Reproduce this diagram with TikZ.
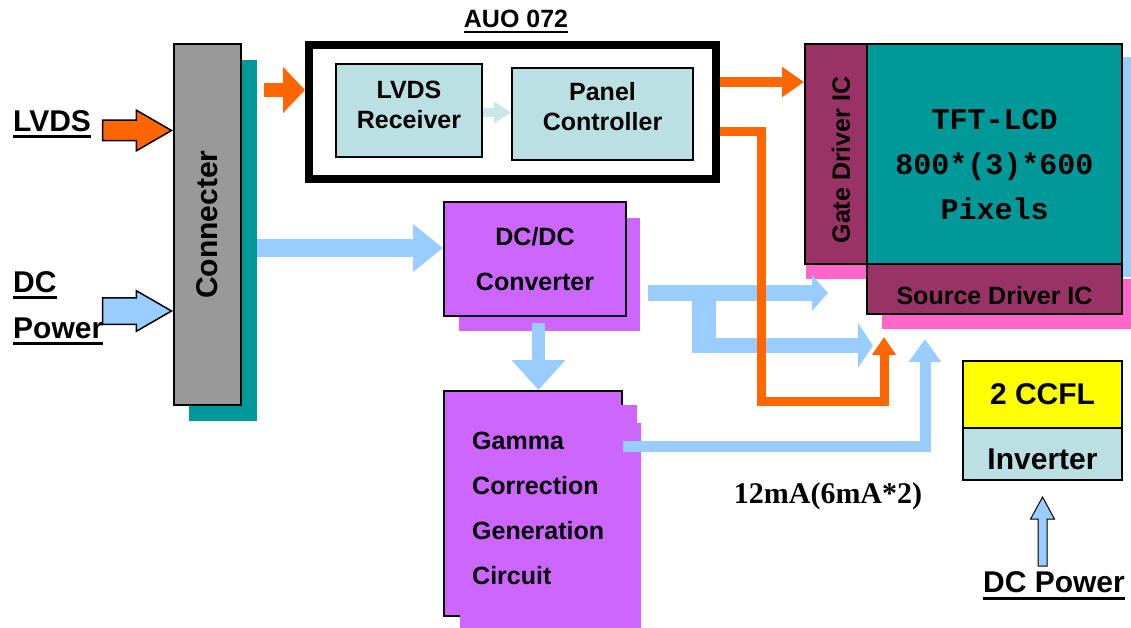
\documentclass[tikz,border=0pt]{standalone}
\usepackage{fontspec}
\setmainfont{Liberation Sans}
\newfontfamily\lcdfont{Liberation Mono}
\newfontfamily\notefont{Liberation Serif}
\usetikzlibrary{arrows.meta, positioning, shapes.arrows}

\definecolor{conngray}{HTML}{999999}
\definecolor{tealpanel}{HTML}{009999}
\definecolor{sigorange}{HTML}{FF6600}
\definecolor{powerblue}{HTML}{99CCFF}
\definecolor{icecyan}{HTML}{BBE0E3}
\definecolor{palecyan}{HTML}{C8E8EA}
\definecolor{violetbox}{HTML}{CC66FF}
\definecolor{drivermaroon}{HTML}{993366}
\definecolor{shadowpink}{HTML}{FF66CC}
\definecolor{lampyellow}{HTML}{FFFF00}

\tikzstyle{block} = [rectangle, draw=black, line width=2pt, inner sep=0pt]
\tikzstyle{backing} = [rectangle, inner sep=0pt, outer sep=0pt]
\tikzstyle{boxtext} = [align=center, inner sep=0pt, font=\bfseries\fontsize{25}{30}\selectfont]
\tikzstyle{widetext} = [inner sep=0pt, font=\bfseries\fontsize{25}{45}\selectfont]
\tikzstyle{bigtext} = [inner sep=0pt, font=\bfseries\fontsize{30}{36}\selectfont]
\tikzstyle{lcdtext} = [align=center, inner sep=0pt, font=\lcdfont\bfseries\fontsize{30}{45}\selectfont]
\tikzstyle{inarrow} = [single arrow, draw=black, line width=1.5pt, inner xsep=0pt]
\tikzstyle{sigline} = [draw=sigorange]
\tikzstyle{pwrline} = [draw=powerblue]
\tikzstyle{uline} = [line width=3pt]

\begin{document}
\begin{tikzpicture}[x=1pt, y=-1pt]
\useasboundingbox (0,0) rectangle (1131,628);

% shadows behind the boxes
\node (conshadow) [backing, fill=tealpanel, minimum width=68pt, minimum height=361pt] at (223,240.5) {};
\node (dcdcshadow) [backing, fill=violetbox, minimum width=181pt, minimum height=113pt] at (549.5,274.5) {};
\node (lcdshadow) [backing, fill=powerblue, minimum width=255pt, minimum height=220pt] at (1009.5,167) {};
\node (gateshadow) [backing, fill=shadowpink, minimum width=76pt, minimum height=29pt] at (844,264.5) {};
\node (srcshadow) [backing, fill=shadowpink, minimum width=255pt, minimum height=50pt] at (1009.5,304) {};

\node (conn) [block, fill=conngray, minimum width=67pt, minimum height=361pt] at (207.5,224.5) {};
\node [bigtext, rotate=90] at (conn.center) {Connecter};

\node (lvdslbl) [bigtext, anchor=base west] at (13,132) {LVDS};
\node (dclbl) [bigtext, anchor=base west] at (13,292) {DC~};
\node (pwrlbl) [bigtext, anchor=base west] at (13,338) {Power};
\foreach \lbl in {lvdslbl, dclbl, pwrlbl}
  \draw[uline] ([yshift=-5pt]\lbl.base west) -- ([yshift=-5pt]\lbl.base east);

\node (lvdsin) [inarrow, fill=sigorange, minimum height=69pt, inner ysep=9.5pt, single arrow head extend=10pt, single arrow tip angle=60, anchor=tip] at (conn.west |- 0,130.5) {};
\node (dcin) [inarrow, fill=powerblue, minimum height=69pt, inner ysep=12.5pt, single arrow head extend=7pt, single arrow tip angle=60, anchor=tip] at (conn.west |- 0,311) {};

% AUO 072 module
\node (auo) [rectangle, draw=black, line width=8pt, minimum width=407pt, minimum height=134pt] at (512.5,112) {};
\node (auolbl) [boxtext, anchor=base] at (516,28) {AUO 072};
\draw[line width=2.5pt] ([yshift=-4pt]auolbl.base west) -- ([yshift=-4pt]auolbl.base east);

\node (rx) [block, fill=icecyan, minimum width=146pt, minimum height=93pt, label={[boxtext, yshift=6pt]center:{LVDS\\Receiver}}] at (409,110.5) {};
\node (pc) [block, fill=icecyan, minimum width=181pt, minimum height=92pt, label={[boxtext, yshift=7pt]center:{Panel\\Controller}}] at (602.5,114) {};

% panel
\node (gate) [block, fill=drivermaroon, minimum width=62pt, minimum height=220pt] at (836,154) {};
\node [boxtext, rotate=90] at ([shift={(5pt,-6pt)}]gate.center) {Gate Driver IC};
\node (lcd) [block, fill=tealpanel, minimum width=255pt, minimum height=220pt] at (994.5,154) {};
\node [lcdtext] at ([yshift=-11pt]lcd.center) {TFT-LCD\\800*(3)*600\\Pixels};
\node (src) [block, fill=drivermaroon, minimum width=255pt, minimum height=50pt, label={[boxtext, yshift=-7pt]center:Source Driver IC}] at (994.5,289) {};

% power blocks
\node (dcdc) [block, fill=violetbox, minimum width=182pt, minimum height=114pt, widetext, align=center] at (535,259) {DC/DC\\Converter};
\node (gamma) [block, fill=violetbox, minimum width=178pt, minimum height=225pt] at (533,503.5) {};
\fill[violetbox] (460,405) -- (637,405) -- (637,423) -- (641,423) -- (641,628) -- (460,628) -- cycle;
\node (gammatxt) [widetext, align=left, anchor=north west] at (472,432) {Gamma\\Correction\\Generation\\Circuit};

\node (ccfl) [block, fill=lampyellow, minimum width=159pt, minimum height=67pt, bigtext] at (1042.5,394.5) {2 CCFL};
\node (inv) [block, fill=icecyan, minimum width=159pt, minimum height=52pt, label={[bigtext, yshift=-5pt]center:Inverter}] at (1042.5,454) {};
\node (invin) [inarrow, line width=1pt, fill=powerblue, rotate=90, minimum height=69pt, inner ysep=4pt, single arrow head extend=7.5pt, single arrow tip angle=57, anchor=tip] at (inv.south |- 0,496) {};
\node (dcpwr) [bigtext, anchor=base] at (1054,592) {DC Power};
\draw[uline] ([yshift=-6pt]dcpwr.base west) -- ([yshift=-6pt]dcpwr.base east);

\node (lampnote) [font=\notefont\bfseries\fontsize{30}{36}\selectfont, inner sep=0pt, anchor=base] at (828,503) {12mA(6mA*2)};

% power connectors
\coordinate (gatepwr) at (828,293);
\coordinate (srcpwr) at (873,345.5);
\coordinate (tjoin) at (704,293);
\coordinate (tfoot) at (692,345.5);
\coordinate (srcgam) at (925,339);
\draw[pwrline, line width=18pt, -{Triangle[length=30pt,width=46pt]}] (conshadow.east |- 0,248) -- (dcdc.west |- 0,248);
\draw[pwrline, line width=13pt, -{Triangle[length=30pt,width=52pt]}, shorten <=6pt] (dcdc.south -| 538.5,0) -- (gamma.north -| 538.5,0);
\draw[pwrline, line width=16pt, -{Triangle[length=16pt,width=35pt]}, shorten <=8pt] (dcdcshadow.east |- gatepwr) -- (gatepwr);
\draw[pwrline, line width=24pt] (tjoin) -- (tjoin |- tfoot);
\draw[pwrline, line width=15pt, -{Triangle[length=15pt,width=44pt]}] (tfoot) -- (srcpwr);
\draw[pwrline, line width=11pt, -{Triangle[length=23pt,width=31pt]}] (gamma.east |- 0,446) -| (srcgam);

% signal connectors
\coordinate (srcsig) at (884,337);
\draw[sigline, line width=14pt, -{Triangle[length=22pt,width=45pt]}, shorten <=7pt] (conshadow.east |- 0,90) -- (auo.west |- 0,90);
\draw[draw=palecyan, line width=9pt, -{Triangle[length=17pt,width=21pt]}] (rx.east |- 0,112.5) -- (pc.west |- 0,112.5);
\draw[sigline, line width=10pt, -{Triangle[length=22pt,width=29pt]}] (auo.east |- 0,82) -- (gate.west |- 0,82);
\draw[sigline, line width=9pt, -{Triangle[length=18pt,width=23pt]}] (auo.east |- 0,132) -| (761,401) -| (srcsig);

\end{tikzpicture}
\end{document}
